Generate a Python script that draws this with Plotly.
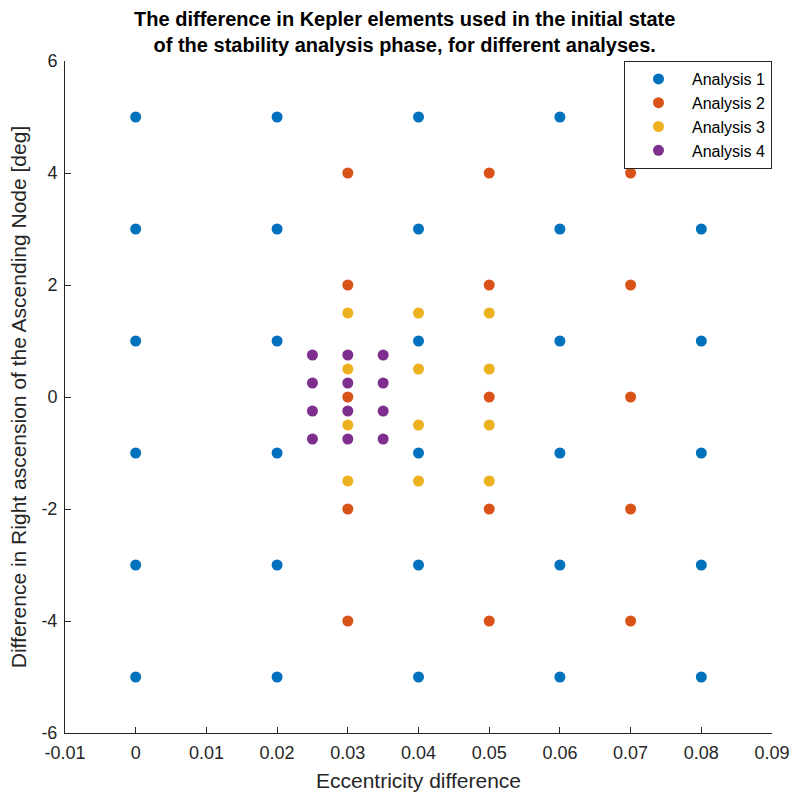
import plotly.graph_objects as go

# Analysis 1 grid
a1_x = [0.0]*6 + [0.02]*6 + [0.04]*6 + [0.06]*6 + [0.08]*6
a1_y = [5, 3, 1, -1, -3, -5]*5
# Analysis 2 grid
a2_x = [0.03]*5 + [0.05]*5 + [0.07]*5
a2_y = [4, 2, 0, -2, -4]*3
# Analysis 3 grid
a3_x = [0.03]*4 + [0.04]*4 + [0.05]*4
a3_y = [1.5, 0.5, -0.5, -1.5]*3
# Analysis 4 grid
a4_x = [0.025]*4 + [0.03]*4 + [0.035]*4
a4_y = [0.75, 0.25, -0.25, -0.75]*3

names = ["Analysis 1", "Analysis 2", "Analysis 3", "Analysis 4"]
colors = ["#0072BD", "#D95319", "#EDB120", "#7E2F8E"]
xs = [a1_x, a2_x, a3_x, a4_x]
ys = [a1_y, a2_y, a3_y, a4_y]

x_ticks = [-0.01, 0, 0.01, 0.02, 0.03, 0.04, 0.05, 0.06, 0.07, 0.08, 0.09]
x_ticklabels = ["-0.01", "0", "0.01", "0.02", "0.03", "0.04", "0.05", "0.06", "0.07", "0.08", "0.09"]
y_ticks = [-6, -4, -2, 0, 2, 4, 6]
y_ticklabels = ["-6", "-4", "-2", "0", "2", "4", "6"]

fig = go.Figure()
for n, c, x, y in zip(names, colors, xs, ys):
    fig.add_trace(go.Scatter(x=x, y=y, mode="markers", name=n,
                             marker=dict(color=c, size=11, line=dict(width=0))))

font = "Liberation Sans, Arial, Helvetica, sans-serif"
fig.update_layout(
    width=792, height=792,
    margin=dict(l=65, r=20, t=61, b=59),
    plot_bgcolor="white", paper_bgcolor="white",
    font=dict(family=font, size=18, color="#262626"),
    title=dict(text="<b>The difference in Kepler elements used in the initial state<br>of the stability analysis phase, for different analyses.</b>",
               x=0.511, xanchor="center", y=0.967, yanchor="top",
               font=dict(size=20, color="black", family=font)),
    showlegend=True,
    legend=dict(x=1.0, xanchor="right", y=1.0, yanchor="top",
                bgcolor="white", bordercolor="#262626", borderwidth=1,
                font=dict(size=16, color="black"), itemwidth=57,
                tracegroupgap=0),
    xaxis=dict(range=[-0.01, 0.09], tickvals=x_ticks, ticktext=x_ticklabels,
               automargin=False,
               showgrid=False, zeroline=False, showline=True, linecolor="#262626",
               linewidth=1, ticks="inside", ticklen=6, tickcolor="#262626",
               tickfont=dict(size=18), ticklabelstandoff=3,
               title=dict(text="Eccentricity difference", standoff=12,
                          font=dict(size=21, color="#262626"))),
    yaxis=dict(range=[-6, 6], tickvals=y_ticks, ticktext=y_ticklabels,
               automargin=False,
               showgrid=False, zeroline=False, showline=True, linecolor="#262626",
               linewidth=1, ticks="inside", ticklen=6, tickcolor="#262626",
               tickfont=dict(size=18), ticklabelstandoff=3,
               title=dict(text="Difference in Right ascension of the Ascending Node [deg]",
                          standoff=9, font=dict(size=21, color="#262626"))),
)

# remove the browser's default 8px body margin so the 792px figure fills the window
fig.write_html("out.html",
               config={"displayModeBar": False},
               post_script="document.body.style.margin='0';document.body.style.overflow='hidden';")
